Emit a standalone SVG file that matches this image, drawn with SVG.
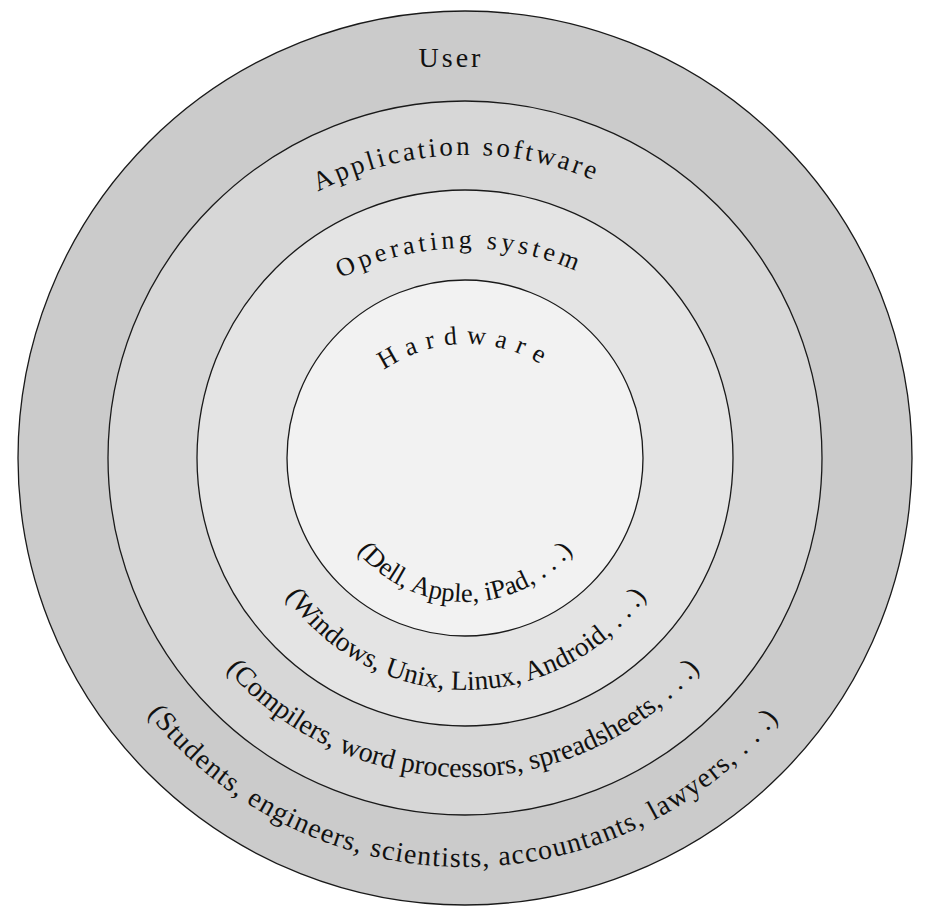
<svg xmlns="http://www.w3.org/2000/svg" xmlns:xlink="http://www.w3.org/1999/xlink" width="930" height="920" viewBox="0 0 930 920">
<style>
  .ring { stroke: #1a1a1a; stroke-width: 1.3; }
  .lbl { font-family: "Liberation Serif", "Times New Roman", serif; fill: #111111; }
</style>
<defs>
  <path id="pApp" d="M 142,481 A 326 326 0 0 1 794,481"/>
  <path id="pOS" d="M 192,522 A 274 274 0 0 1 740,522"/>
  <path id="pHW" d="M 322,489 A 145 145 0 0 1 612,489"/>
  <path id="pDell" d="M 325,462 A 140 140 0 0 0 605,462"/>
  <path id="pWin" d="M 246,470 A 220 220 0 0 0 686,470"/>
  <path id="pComp" d="M 149,463 A 314 314 0 0 0 777,463"/>
  <path id="pStu" d="M 60,462 A 405 405 0 0 0 870,462"/>
</defs>
<rect width="930" height="920" fill="#ffffff"/>
<g id="user">
  <circle class="ring" cx="465" cy="458" r="447" fill="#cbcbcb"/>
  <text class="lbl" x="451" y="67" font-size="28" letter-spacing="3" text-anchor="middle">User</text>
  <text class="lbl" font-size="28" letter-spacing="1.2" text-anchor="middle"><textPath xlink:href="#pStu" href="#pStu" startOffset="49.8%">(Students, engineers, scientists, accountants, lawyers, . . .)</textPath></text>
</g>
<g id="application-software">
  <circle class="ring" cx="465" cy="458" r="357" fill="#d7d7d7"/>
  <text class="lbl" font-size="27" letter-spacing="3" text-anchor="middle"><textPath xlink:href="#pApp" href="#pApp" startOffset="48.8%">Application software</textPath></text>
  <text class="lbl" font-size="28" text-anchor="middle"><textPath xlink:href="#pComp" href="#pComp" startOffset="50%">(Compilers, word processors, spreadsheets, . . .)</textPath></text>
</g>
<g id="operating-system">
  <circle class="ring" cx="465" cy="458" r="268" fill="#e4e4e4"/>
  <text class="lbl" font-size="26" letter-spacing="4" text-anchor="middle"><textPath xlink:href="#pOS" href="#pOS" startOffset="49.2%">Operating system</textPath></text>
  <text class="lbl" font-size="27.5" text-anchor="middle"><textPath xlink:href="#pWin" href="#pWin" startOffset="50%">(Windows, Unix, Linux, Android, . . .)</textPath></text>
</g>
<g id="hardware">
  <circle class="ring" cx="465" cy="458" r="178" fill="#f2f2f2"/>
  <text class="lbl" font-size="26" letter-spacing="9" text-anchor="middle"><textPath xlink:href="#pHW" href="#pHW" startOffset="49.7%">Hardware</textPath></text>
  <text class="lbl" font-size="26.5" text-anchor="middle"><textPath xlink:href="#pDell" href="#pDell" startOffset="50%">(Dell, Apple, iPad, . . .)</textPath></text>
</g>
<g id="connectors"/>
</svg>
